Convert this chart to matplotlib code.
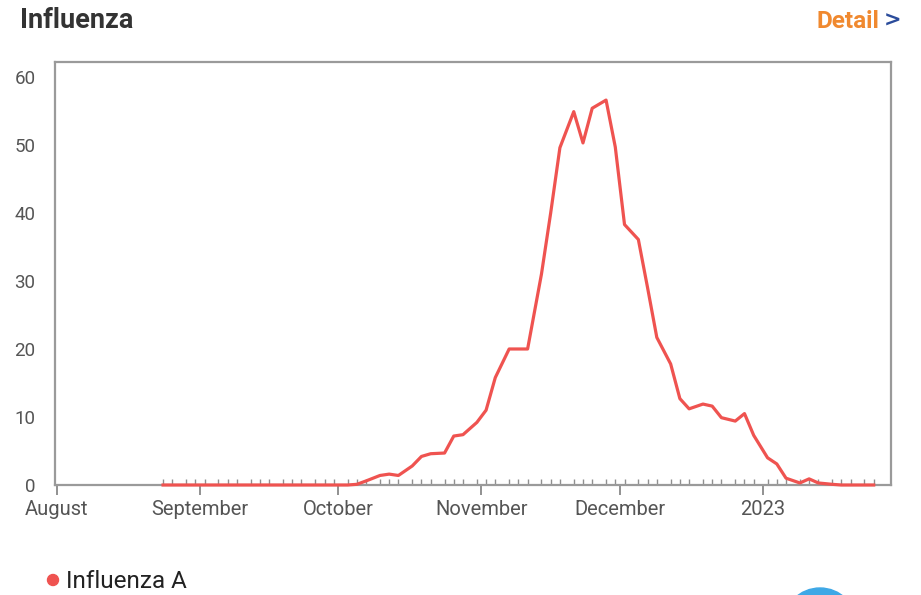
import pandas as pd
import matplotlib
matplotlib.use('Agg')
import matplotlib.pyplot as plt
import matplotlib.dates as mdates
from matplotlib.patches import Ellipse

# readings (Mon / Wed / Fri), season 2022-2023
dates = ['2022-08-24', '2022-08-26',
         '2022-08-29', '2022-08-31', '2022-09-02',
         '2022-09-05', '2022-09-07', '2022-09-09',
         '2022-09-12', '2022-09-14', '2022-09-16',
         '2022-09-19', '2022-09-21', '2022-09-23',
         '2022-09-26', '2022-09-28', '2022-09-30',
         '2022-10-03', '2022-10-05', '2022-10-07',
         '2022-10-10', '2022-10-12', '2022-10-14',
         '2022-10-17', '2022-10-19', '2022-10-21',
         '2022-10-24', '2022-10-26', '2022-10-28',
         '2022-10-31', '2022-11-02', '2022-11-04',
         '2022-11-07', '2022-11-09', '2022-11-11',
         '2022-11-14', '2022-11-16', '2022-11-18',
         '2022-11-21', '2022-11-23', '2022-11-25',
         '2022-11-28', '2022-11-30', '2022-12-02',
         '2022-12-05', '2022-12-07', '2022-12-09',
         '2022-12-12', '2022-12-14', '2022-12-16',
         '2022-12-19', '2022-12-21', '2022-12-23',
         '2022-12-26', '2022-12-28', '2022-12-30',
         '2023-01-02', '2023-01-04', '2023-01-06',
         '2023-01-09', '2023-01-11', '2023-01-13',
         '2023-01-16', '2023-01-18', '2023-01-20',
         '2023-01-23', '2023-01-25']
influenza_a = [0, 0,
               0, 0, 0,
               0, 0, 0,
               0, 0, 0,
               0, 0, 0,
               0, 0, 0,
               0, 0.1, 0.6,
               1.4, 1.6, 1.4,
               2.8, 4.2, 4.6,
               4.7, 7.2, 7.4,
               9.2, 11.0, 15.8,
               20.0, 20.0, 20.0,
               31.0, 40.0, 49.6,
               54.9, 50.3, 55.4,
               56.6, 49.7, 38.3,
               36.1, 29.0, 21.7,
               17.8, 12.7, 11.2,
               11.9, 11.6, 9.9,
               9.4, 10.5, 7.3,
               4.0, 3.1, 1.0,
               0.3, 0.9, 0.3,
               0.1, 0, 0,
               0, 0]
month_starts = ['2022-08-01', '2022-09-01', '2022-10-01', '2022-11-01', '2022-12-01', '2023-01-01']
month_labels = ['August', 'September', 'October', 'November', 'December', '2023']

W, H = 921, 595
red = '#ef5350'
x = pd.to_datetime(dates)
majors = pd.to_datetime(month_starts)

fig = plt.figure(figsize=(W / 100, H / 100), dpi=100)
ax = fig.add_axes([55 / W, 1 - 485 / H, 836 / W, 423 / H])

ax.plot(x, influenza_a, color=red, lw=2.3, clip_on=False, zorder=3)

ax.set_ylim(0, 62.2)
ax.set_yticks(range(0, 61, 10))
ax.set_xlim(majors[0] - pd.Timedelta(hours=10), majors[0] + pd.Timedelta(days=180.75))

ax.set_xticks(majors)
ax.set_xticklabels(month_labels)
ax.xaxis.set_minor_locator(mdates.ticker.FixedLocator(mdates.date2num(x)))

ax.tick_params(axis='x', which='major', direction='out', length=7, width=1.3,
               color='#888888', labelsize=14.5, labelcolor='#555555', pad=4)
ax.tick_params(axis='x', which='minor', direction='in', length=4, width=1,
               color='#8f8f8f')
ax.tick_params(axis='y', length=0, labelsize=13.5, labelcolor='#555555', pad=14)
for lab in ax.get_xticklabels() + ax.get_yticklabels():
    lab.set_family('Roboto')

for s in ax.spines.values():
    s.set_color('#9a9a9a')
    s.set_linewidth(1.6)

fig.text(20 / W, 1 - 21 / H, 'Influenza', family='Roboto', weight='bold', fontsize=19.5,
         color='#333333', va='center', ha='left')
fig.text(879 / W, 1 - 21 / H, 'Detail', family='Roboto', weight='bold', fontsize=17.5,
         color='#f0892f', va='center', ha='right')
fig.text(884 / W, 1 - 21 / H, '>', family='DejaVu Sans', weight='bold', fontsize=15,
         color='#2b4c9b', va='center', ha='left')

# legend row
fig.patches.append(Ellipse((53 / W, 1 - 580 / H), 11 / W, 11 / H, transform=fig.transFigure,
                           color=red, zorder=5))
fig.text(66 / W, 1 - 582 / H, 'Influenza A', family='Roboto', fontsize=17.5,
         color='#222222', va='center', ha='left')

# partial blue button at the bottom edge
fig.patches.append(Ellipse((820 / W, 1 - 625 / H), 74 / W, 74 / H, transform=fig.transFigure,
                           color='#3ea8e6', zorder=5))

fig.savefig('out.png', dpi=100)
